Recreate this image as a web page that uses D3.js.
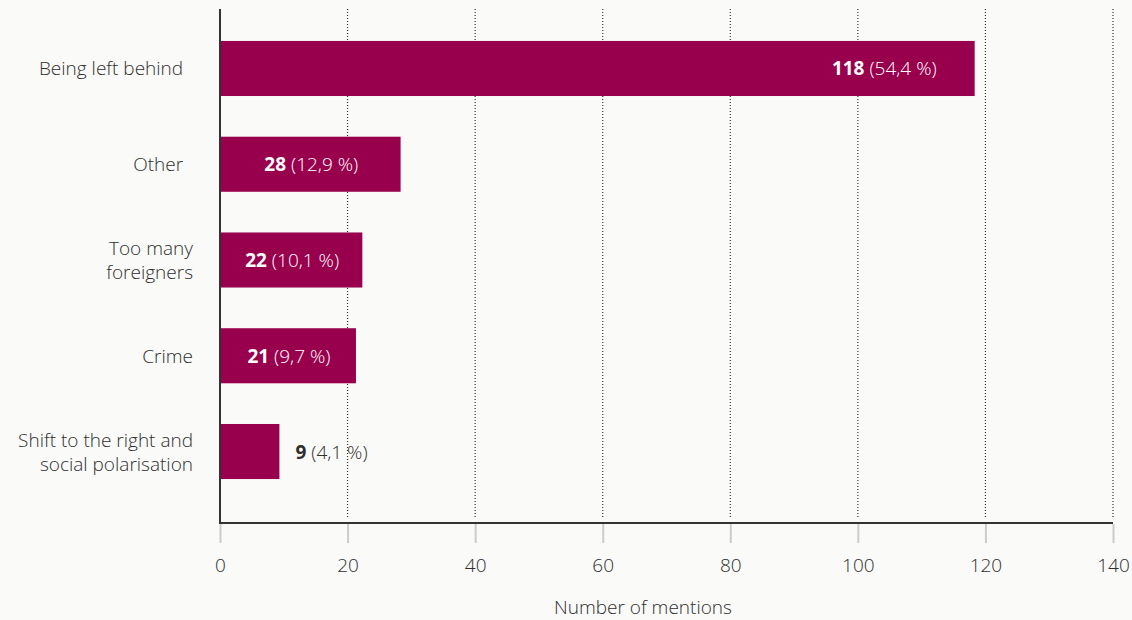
<!DOCTYPE html>
<html><head><meta charset="utf-8">
<script src="https://cdn.jsdelivr.net/npm/d3@7"></script>
<style>
html,body{margin:0;padding:0;background:#fafaf8;}
text{font-family:"Open Sans","Noto Sans",sans-serif;font-weight:300;}
</style></head>
<body><svg id="c" width="1132" height="620"></svg>
<script>
const categories = [["Being left behind\u00a0\u00a0"],["Other\u00a0\u00a0"],["Too many","foreigners"],["Crime"],["Shift to the right and","social polarisation"]];
const values = [118, 28, 22, 21, 9];
const percents = ["54,4 %","12,9 %","10,1 %","9,7 %","4,1 %"];
const xTicks = [0,20,40,60,80,100,120,140];
const axisTitle = "Number of mentions";

const FS = "19px";
const svg = d3.select("#c");
const x = d3.scaleLinear().domain([0,140]).range([220,1113]);
const y = d3.scaleBand().domain(d3.range(values.length)).range([20.6,499.4]).paddingInner(0.425).paddingOuter(0.2125);
const txt = "#2e2e2e";

// grid
svg.append("g").selectAll("line").data(xTicks.filter(d=>d>0)).join("line")
  .attr("x1",d=>x(d)).attr("x2",d=>x(d)).attr("y1",9).attr("y2",517)
  .attr("stroke","#333").attr("stroke-width",1.2).attr("stroke-dasharray","1,2");

// bars
svg.append("g").selectAll("rect").data(values).join("rect")
  .attr("x",x(0)).attr("y",(d,i)=>y(i)).attr("width",d=>x(d)-x(0)+2).attr("height",y.bandwidth())
  .attr("fill","#98004e");

// axes lines
svg.append("line").attr("x1",x(0)).attr("x2",x(0)).attr("y1",9).attr("y2",523).attr("stroke","#333").attr("stroke-width",2);
svg.append("line").attr("x1",x(0)-1).attr("x2",x(140)).attr("y1",523).attr("y2",523).attr("stroke","#333").attr("stroke-width",2);

// ticks
const xa = svg.append("g").attr("transform","translate(0,524)")
  .call(d3.axisBottom(x).tickValues(xTicks).tickSize(19).tickPadding(16).tickSizeOuter(0));
xa.select(".domain").remove();
xa.selectAll(".tick line").attr("stroke","#ccc").attr("stroke-width",2);
xa.selectAll(".tick text").attr("fill",txt).style("font-size",FS).style("font-family","'Open Sans','Noto Sans',sans-serif").style("font-weight","300");

// axis title
svg.append("text").attr("x",643).attr("y",614).attr("text-anchor","middle").attr("fill",txt).style("font-size",FS).text(axisTitle);

// category labels
categories.forEach((lines,i)=>{
  const cy = y(i)+y.bandwidth()/2;
  const t = svg.append("text").attr("text-anchor","end").attr("fill",txt).style("font-size",FS).attr("xml:space","preserve");
  lines.forEach((l,j)=>{
    t.append("tspan").attr("x",193).attr("y",cy + 7 + (j-(lines.length-1)/2)*24).text(l);
  });
});

// value labels
values.forEach((v,i)=>{
  const cy = y(i)+y.bandwidth()/2 + 7;
  const w = x(v)-x(0);
  const inside = w > 80;
  const t = svg.append("text").attr("y",cy).style("font-size",FS)
    .attr("fill", inside ? "#fff" : txt);
  if (inside && w > 300) t.attr("x",x(v)-36).attr("text-anchor","end");
  else if (inside) t.attr("x",(x(0)+x(v))/2 + 2).attr("text-anchor","middle");
  else t.attr("x",x(v)+18).attr("text-anchor","start");
  t.append("tspan").style("font-weight","bold").text(v);
  t.append("tspan").text(" ("+percents[i]+")");
});
</script></body></html>
